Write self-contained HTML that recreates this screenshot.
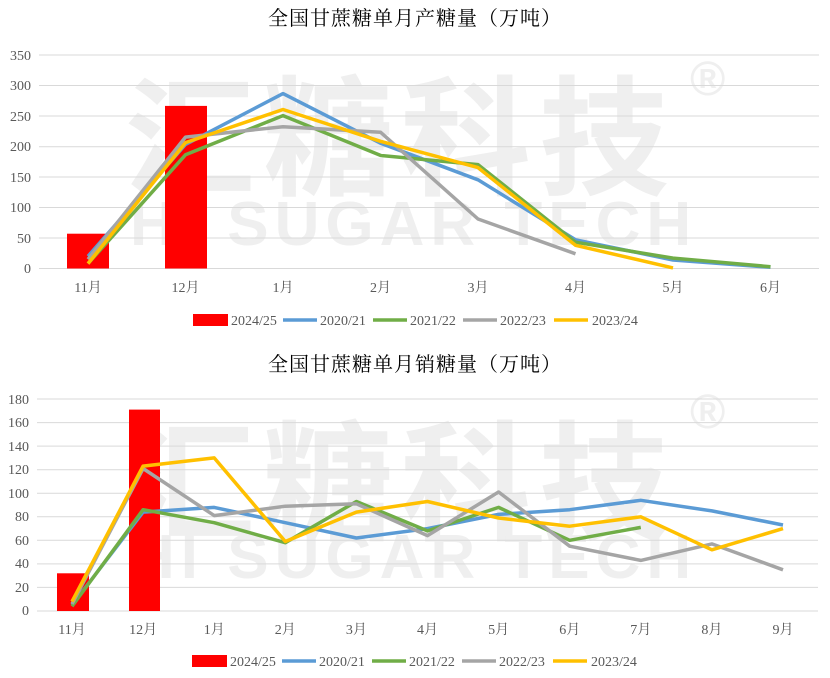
<!DOCTYPE html>
<html><head><meta charset="utf-8"><style>
body{margin:0;background:#fff;}
svg{display:block;font-family:"Liberation Serif","Noto Serif CJK SC",serif;}
</style></head><body>
<svg width="830" height="678" viewBox="0 0 830 678" xmlns="http://www.w3.org/2000/svg">
<g fill="#efefef" font-family="'Liberation Sans','Noto Sans CJK SC',sans-serif" font-weight="bold">
<text x="125" y="185" font-size="130" letter-spacing="8">汇糖科技</text>
<text x="130" y="245" font-size="62" letter-spacing="6">HI SUGAR TECH</text>
<text x="690" y="95" font-size="48">®</text>
<text x="125" y="530" font-size="130" letter-spacing="8">汇糖科技</text>
<text x="130" y="578" font-size="62" letter-spacing="6">HI SUGAR TECH</text>
<text x="690" y="428" font-size="48">®</text>
</g>
<text x="415" y="25" font-size="20" text-anchor="middle" font-family="'Noto Serif CJK SC',serif" letter-spacing="1">全国甘蔗糖单月产糖量（万吨）</text>
<g stroke="#d9d9d9" stroke-width="1">
<line x1="39" x2="819" y1="55" y2="55"/><line x1="39" x2="819" y1="85.5" y2="85.5"/><line x1="39" x2="819" y1="116" y2="116"/><line x1="39" x2="819" y1="146.7" y2="146.7"/><line x1="39" x2="819" y1="177" y2="177"/><line x1="39" x2="819" y1="207.5" y2="207.5"/><line x1="39" x2="819" y1="238" y2="238"/><line x1="39" x2="819" y1="268.5" y2="268.5"/>
</g>
<g font-size="14" fill="#595959" text-anchor="end">
<text x="31" y="60">350</text><text x="31" y="90">300</text><text x="31" y="121">250</text><text x="31" y="151">200</text><text x="31" y="182">150</text><text x="31" y="212">100</text><text x="31" y="243">50</text><text x="31" y="273">0</text>
</g>
<g font-size="14" fill="#595959" text-anchor="middle">
<text x="88" y="292">11月</text><text x="185.5" y="292">12月</text><text x="283" y="292">1月</text><text x="380.5" y="292">2月</text><text x="478" y="292">3月</text><text x="575.5" y="292">4月</text><text x="673" y="292">5月</text><text x="770.5" y="292">6月</text>
</g>
<rect x="67" y="233.7" width="42" height="34.8" fill="#ff0000"/>
<rect x="165" y="105.9" width="42" height="162.6" fill="#ff0000"/>
<g fill="none" stroke-width="3.5" stroke-linejoin="round">
<polyline stroke="#5b9bd5" points="88,256.3 185.5,144.4 283,93.6 380.5,143.2 478,179.8 575.5,239.8 673,260 770.5,267.3"/>
<polyline stroke="#70ad47" points="88,263.6 185.5,154.8 283,115.6 380.5,155.4 478,164.6 575.5,242.2 673,258.1 770.5,266.7"/>
<polyline stroke="#a5a5a5" points="88,259.3 185.5,137.1 283,126.7 380.5,132.2 478,219 575.5,253.8"/>
<polyline stroke="#ffc000" points="88,263.6 185.5,142.6 283,109.5 380.5,141.3 478,167.6 575.5,245.3 673,267.9"/>
</g>
<g font-size="14" fill="#595959">
<rect x="193" y="314" width="35" height="12" fill="#ff0000"/><text x="231" y="325">2024/25</text>
<line x1="283" x2="317" y1="320" y2="320" stroke="#5b9bd5" stroke-width="3.5"/><text x="320" y="325">2020/21</text>
<line x1="373" x2="407" y1="320" y2="320" stroke="#70ad47" stroke-width="3.5"/><text x="410" y="325">2021/22</text>
<line x1="463" x2="497" y1="320" y2="320" stroke="#a5a5a5" stroke-width="3.5"/><text x="500" y="325">2022/23</text>
<line x1="554" x2="588" y1="320" y2="320" stroke="#ffc000" stroke-width="3.5"/><text x="592" y="325">2023/24</text>
</g>
<text x="415" y="371" font-size="20" text-anchor="middle" font-family="'Noto Serif CJK SC',serif" letter-spacing="1">全国甘蔗糖单月销糖量（万吨）</text>
<g stroke="#d9d9d9" stroke-width="1">
<line x1="37" x2="818" y1="399" y2="399"/><line x1="37" x2="818" y1="422.6" y2="422.6"/><line x1="37" x2="818" y1="446.1" y2="446.1"/><line x1="37" x2="818" y1="469.7" y2="469.7"/><line x1="37" x2="818" y1="493.2" y2="493.2"/><line x1="37" x2="818" y1="516.8" y2="516.8"/><line x1="37" x2="818" y1="540.3" y2="540.3"/><line x1="37" x2="818" y1="563.9" y2="563.9"/><line x1="37" x2="818" y1="587.4" y2="587.4"/><line x1="37" x2="818" y1="611" y2="611"/>
</g>
<g font-size="14" fill="#595959" text-anchor="end">
<text x="29" y="404">180</text><text x="29" y="427">160</text><text x="29" y="451">140</text><text x="29" y="474">120</text><text x="29" y="498">100</text><text x="29" y="521">80</text><text x="29" y="545">60</text><text x="29" y="568">40</text><text x="29" y="592">20</text><text x="29" y="615">0</text>
</g>
<g font-size="14" fill="#595959" text-anchor="middle">
<text x="72" y="634">11月</text><text x="143.1" y="634">12月</text><text x="214.2" y="634">1月</text><text x="285.3" y="634">2月</text><text x="356.4" y="634">3月</text><text x="427.5" y="634">4月</text><text x="498.6" y="634">5月</text><text x="569.7" y="634">6月</text><text x="640.8" y="634">7月</text><text x="711.9" y="634">8月</text><text x="783" y="634">9月</text>
</g>
<rect x="57" y="573.3" width="32" height="37.7" fill="#ff0000"/>
<rect x="129" y="409.6" width="31" height="201.4" fill="#ff0000"/>
<g fill="none" stroke-width="3.5" stroke-linejoin="round">
<polyline stroke="#5b9bd5" points="72,605.1 143.1,512.1 214.2,507.4 285.3,522.7 356.4,538 427.5,528.6 498.6,514.4 569.7,509.7 640.8,500.3 711.9,510.9 783,525"/>
<polyline stroke="#70ad47" points="72,606.3 143.1,509.7 214.2,522.7 285.3,542.7 356.4,501.5 427.5,530.9 498.6,507.4 569.7,540.3 640.8,527.4"/>
<polyline stroke="#a5a5a5" points="72,603.9 143.1,468.5 214.2,515.6 285.3,506.2 356.4,503.8 427.5,535.6 498.6,492 569.7,546.2 640.8,560.4 711.9,543.9 783,569.8"/>
<polyline stroke="#ffc000" points="72,601.6 143.1,466.1 214.2,457.9 285.3,541.5 356.4,512.1 427.5,501.5 498.6,518 569.7,526.2 640.8,516.8 711.9,549.8 783,528.6"/>
</g>
<g font-size="14" fill="#595959">
<rect x="192" y="655" width="35" height="12" fill="#ff0000"/><text x="230" y="666">2024/25</text>
<line x1="282" x2="316" y1="661" y2="661" stroke="#5b9bd5" stroke-width="3.5"/><text x="319" y="666">2020/21</text>
<line x1="372" x2="406" y1="661" y2="661" stroke="#70ad47" stroke-width="3.5"/><text x="409" y="666">2021/22</text>
<line x1="462" x2="496" y1="661" y2="661" stroke="#a5a5a5" stroke-width="3.5"/><text x="499" y="666">2022/23</text>
<line x1="553" x2="587" y1="661" y2="661" stroke="#ffc000" stroke-width="3.5"/><text x="591" y="666">2023/24</text>
</g>
</svg>
</body></html>
